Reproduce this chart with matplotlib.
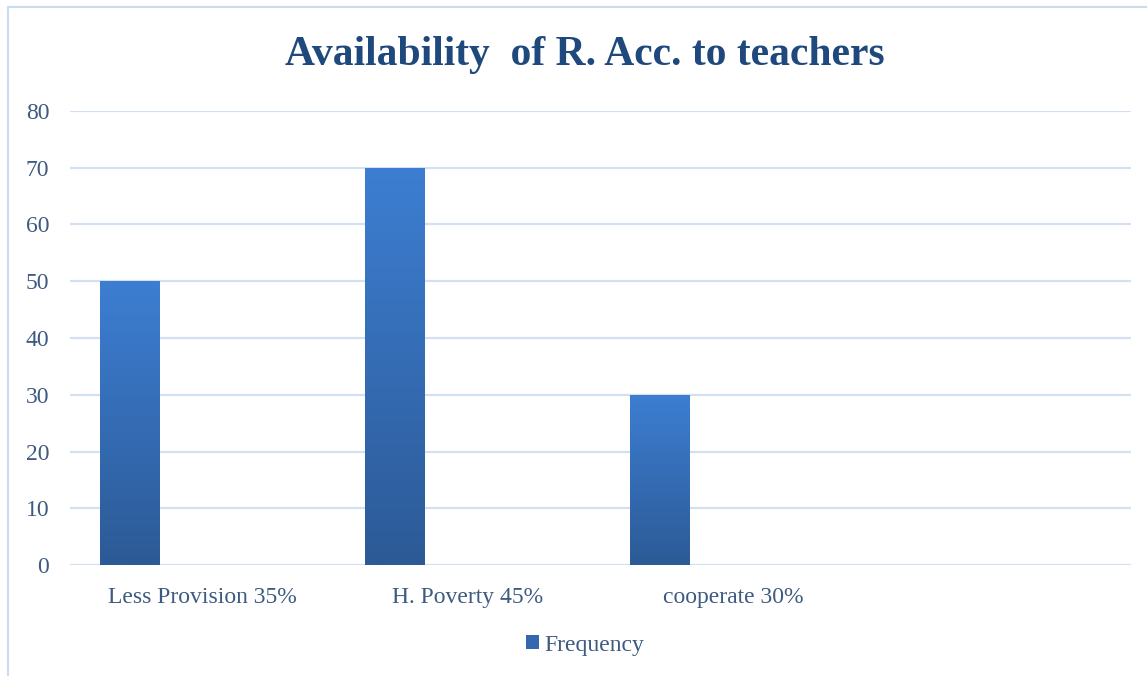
import numpy as np
import matplotlib
matplotlib.use("Agg")
import matplotlib.pyplot as plt
from matplotlib.patches import Rectangle
from matplotlib.colors import LinearSegmentedColormap

# data
categories = ["Less Provision 35%", "H. Poverty 45%", "cooperate 30%", ""]
frequency = [50, 70, 30, None]
series_name = "Frequency"
y_ticks = [0, 10, 20, 30, 40, 50, 60, 70, 80]

title_color = "#1F497D"
text_color = "#3D5A80"
grid_color = "#D2E0F2"
top_blue = "#3D7ED2"
bottom_blue = "#2C5A96"

plt.rcParams["font.family"] = ["Liberation Serif", "DejaVu Serif"]

fig = plt.figure(figsize=(11.47, 6.76), dpi=100)
ax = fig.add_axes([70 / 1147, 1 - 565 / 676, (1131 - 70) / 1147, (565 - 111) / 676])

# chart border (light blue, cut off at right and bottom)
fig.patches.append(Rectangle((8 / 1147, -0.1), 1.2, 1.1 - 7 / 676,
                             transform=fig.transFigure, fill=False,
                             edgecolor="#CCDCF0", lw=1.5))

x = np.arange(len(categories))
bar_w = 0.226
offset = -0.274
vals = [v if v is not None else 0 for v in frequency]
bars = ax.bar(x + offset, vals, width=bar_w, color="#3467AE", zorder=3,
              label=series_name)

# vertical gradient inside each bar
cmap = LinearSegmentedColormap.from_list("g", [bottom_blue, top_blue])
grad = np.linspace(0, 1, 256).reshape(-1, 1)
for b, v in zip(bars, frequency):
    if v is None:
        b.set_visible(False)
        continue
    x0 = b.get_x()
    im = ax.imshow(grad, cmap=cmap, aspect="auto", origin="lower",
                   extent=(x0, x0 + b.get_width(), 0, v), zorder=3.5)
    im.set_clip_path(b)

ax.set_xlim(-0.5, len(categories) - 0.5)
ax.set_ylim(0, 80)
ax.set_yticks(y_ticks)
ax.set_xticks(x)
ax.set_xticklabels(categories)
ax.tick_params(axis="both", length=0, labelsize=17, colors=text_color)
ax.tick_params(axis="x", pad=16)
ax.tick_params(axis="y", pad=15)
ax.grid(axis="y", color=grid_color, lw=1.6, zorder=0)
for s in ax.spines.values():
    s.set_visible(False)

fig.text(585 / 1147, 1 - 55 / 676, "Availability  of R. Acc. to teachers",
         ha="center", va="center", fontsize=30, fontweight="bold",
         color=title_color)

leg = fig.legend(handles=[bars], labels=[series_name], loc="center",
                 bbox_to_anchor=(585 / 1147, 1 - 645 / 676), frameon=False,
                 fontsize=17, handlelength=0.55, handleheight=0.55,
                 handletextpad=0.25)
for t in leg.get_texts():
    t.set_color(text_color)

fig.savefig("out.png", dpi=100)
